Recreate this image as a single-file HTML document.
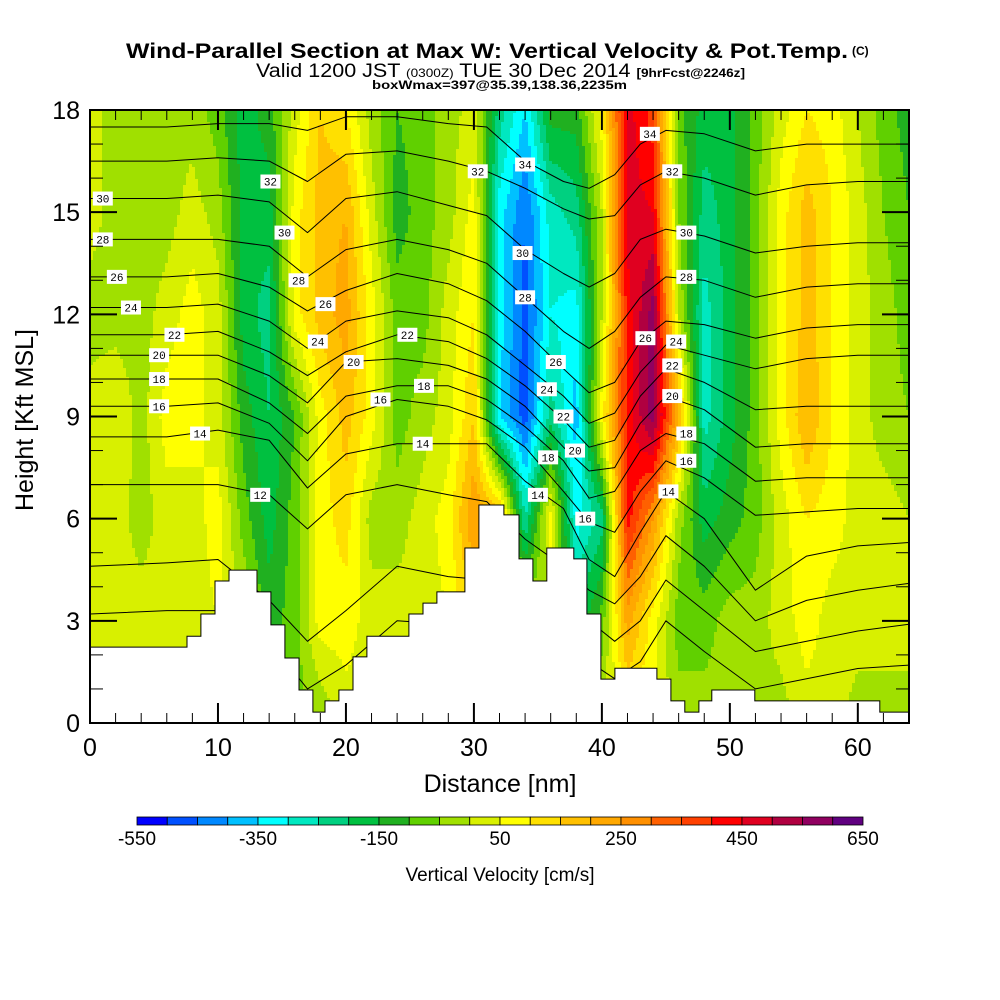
<!DOCTYPE html>
<html><head><meta charset="utf-8">
<style>
html,body{margin:0;padding:0;background:#fff;}
svg{display:block;font-family:"Liberation Sans",Arial,sans-serif;}
</style></head>
<body>
<svg id="chart" width="1000" height="1000" viewBox="0 0 1000 1000">
  <rect x="0" y="0" width="1000" height="1000" fill="#fff"/>
  <g id="title">
    <text x="126" y="58" font-size="21" font-weight="bold" textLength="722" lengthAdjust="spacingAndGlyphs">Wind-Parallel Section at Max W: Vertical Velocity &amp; Pot.Temp.</text>
    <text x="852" y="55" font-size="12" font-weight="bold">(C)</text>
    <text x="256" y="77" font-size="19" textLength="489" lengthAdjust="spacingAndGlyphs">Valid 1200 JST <tspan font-size="12">(0300Z)</tspan> TUE 30 Dec 2014 <tspan font-size="12" font-weight="bold">[9hrFcst@2246z]</tspan></text>
    <text x="372" y="89" font-size="12" font-weight="bold" textLength="255" lengthAdjust="spacingAndGlyphs">boxWmax=397@35.39,138.36,2235m</text>
  </g>
  <defs><clipPath id="plotclip"><rect x="90" y="110" width="819" height="613"/></clipPath></defs>
  <g id="field" clip-path="url(#plotclip)"></g>
  <g id="contours" clip-path="url(#plotclip)"></g>
  <g id="terrain" clip-path="url(#plotclip)"></g>
  <g id="clabels" clip-path="url(#plotclip)"></g>
  <g id="axes"></g>
  <text x="0" y="0" font-size="25" text-anchor="middle" transform="translate(33,420) rotate(-90)">Height [Kft MSL]</text>
  <text x="500" y="792" font-size="25" text-anchor="middle">Distance [nm]</text>
  <g id="colorbar"></g>
  <text x="500" y="881" font-size="19" text-anchor="middle">Vertical Velocity [cm/s]</text>
</svg>
<script>
// ---------- data ----------
const colorBands = ["#0000ff","#0050ff","#0088ff","#00c0ff","#00ffff","#00e8c0","#00d080","#00c040","#20b020","#60d000","#a0e000","#d8f000","#ffff00","#ffe000","#ffc000","#ffa800","#ff9000","#ff6000","#ff4000","#ff0000","#e00020","#b00040","#900060","#600080"];
const bandMin = -550;
const bandStep = 50;
const cbarLabels = [-550,-350,-150,50,250,450,650];
const xTicks = [0,10,20,30,40,50,60];
const yTicks = [0,3,6,9,12,15,18];
const gridNm = [0,2,4,6,8,10,12,14,16,18,20,22,24,26,28,30,32,34,36,38,40,42,44,46,48,50,52,54,56,58,60,62,64];
const gridKft = [0,3,6,9,12,15,18];
const w0  = [25,25,25,25,25,25,0,-100,-75,-50,25,25,25,25,25,25,25,0,0,0,0,75,50,-25,-25,-25,-25,-25,25,25,-25,-25,0];
const w3  = [25,25,25,25,25,50,0,-125,-75,75,75,25,25,25,50,150,100,0,0,-200,-75,225,75,-75,-75,-25,-25,25,75,25,25,25,0];
const w6  = [25,25,-25,25,25,75,-75,-175,-75,75,125,-25,-25,25,75,250,200,-250,75,-325,-225,425,250,-25,-175,-125,-75,25,100,75,25,25,0];
const w9  = [25,50,-25,75,75,25,-125,-200,-100,75,175,75,-75,-25,25,150,-350,-475,-225,-375,75,425,575,200,-275,-175,-75,75,200,100,25,-25,-50];
const w12 = [-25,-25,-25,25,75,25,-175,-225,75,175,225,75,-75,-75,25,100,-325,-475,-300,-325,0,425,575,0,-275,-175,-75,75,175,100,25,-25,-75];
const w15 = [25,-25,-25,-25,25,-25,-175,-175,75,175,200,25,-125,-75,-25,75,-325,-450,-275,-225,0,475,450,-50,-225,-175,-75,75,175,100,25,-50,-100];
const w18 = [25,-25,-25,-25,-25,-75,-175,-125,25,150,100,-25,-100,-75,-25,25,-225,-350,-125,-125,75,475,375,-75,-175,-175,-75,25,100,75,0,-75,-125];
const terrX = [0,7.58,8.67,9.77,10.86,13.05,14.14,15.23,16.33,17.42,18.36,19.45,20.55,21.64,24.92,26.02,27.11,29.3,30.39,32.34,33.52,34.61,35.7,37.81,38.83,39.92,41.02,44.3,45.39,46.48,47.58,48.59,51.95,61.72];
const terrH = [2.23,2.55,3.2,4.17,4.49,3.85,2.88,1.91,0.97,0.32,0.65,0.97,1.94,2.55,3.2,3.52,3.85,5.14,6.4,6.11,4.82,4.17,5.14,4.82,3.2,1.29,1.61,1.29,0.65,0.32,0.65,0.97,0.65,0.32];
const contNm = [0,6,10,14,17,20,24,28,31,34,37,39,41,43,45,48,52,56,60,64];
const th34 = [17.5,17.5,17.6,17.6,17.4,17.8,17.8,17.6,17.5,16.5,15.9,15.7,16.1,17.0,17.4,17.3,16.8,17.0,17.0,17.0];
const th32 = [16.5,16.5,16.6,16.5,15.9,16.7,16.8,16.5,16.2,15.7,15.1,14.8,14.9,15.8,16.2,16.0,15.5,15.8,15.9,15.9];
const th30 = [15.4,15.4,15.5,15.3,14.4,15.4,15.6,15.2,14.9,13.9,13.2,12.8,13.2,14.2,14.5,14.3,13.8,14.0,14.1,14.1];
const th28 = [14.2,14.2,14.2,14.0,13.1,13.9,14.2,13.9,13.5,12.5,11.5,11.0,11.5,12.5,13.1,13.0,12.5,12.8,12.9,12.9];
const th26 = [13.1,13.1,13.2,12.8,12.1,12.7,13.2,12.9,12.4,11.5,10.4,9.7,10.0,11.2,11.8,11.7,11.3,11.6,11.7,11.7];
const th24 = [12.2,12.2,12.3,11.8,11.0,11.8,12.1,11.9,11.4,10.5,9.6,8.8,9.1,10.3,11.1,10.8,10.4,10.7,10.8,10.8];
const th22 = [11.4,11.4,11.5,10.9,10.2,10.9,11.4,11.2,10.7,9.9,8.9,8.1,8.3,9.6,10.4,10.0,9.2,9.3,9.3,9.3];
const th20 = [10.8,10.8,10.8,10.2,9.4,10.6,10.7,10.5,10.1,9.3,8.1,7.4,7.5,8.8,9.6,9.2,8.1,8.2,8.2,8.2];
const th18 = [10.1,10.1,10.1,9.4,8.5,9.6,9.9,9.9,9.5,8.7,7.7,6.6,6.8,8.0,8.5,8.2,7.1,7.2,7.2,7.2];
const th16 = [9.3,9.3,9.4,8.8,7.7,9.0,9.5,9.3,8.9,8.1,6.8,5.9,5.6,6.8,7.7,7.2,6.1,6.2,6.3,6.3];
const th14 = [8.4,8.4,8.6,8.3,6.9,7.9,8.2,8.2,8.2,7.1,6.3,4.8,4.3,5.6,6.8,6.0,3.9,4.9,5.2,5.3];
const th12 = [7.0,7.0,7.0,6.7,5.7,6.7,7.0,6.7,6.5,5.4,4.6,3.9,3.5,4.3,5.5,4.6,3.0,3.6,3.9,4.1];
const th11 = [4.6,4.7,4.8,3.6,2.4,3.3,4.6,4.3,4.2,3.9,3.6,3.0,2.4,3.0,4.2,3.3,2.1,2.4,2.7,2.9];
const th10 = [3.2,3.3,3.3,2.4,1.0,1.7,3.0,2.9,2.7,2.4,2.1,1.8,1.3,1.8,3.0,2.1,1.0,1.3,1.6,1.7];
const labelVals = [30,28,26,24,22,20,18,16,14,12,32,30,28,26,24,20,22,16,18,14,32,34,30,28,26,24,22,20,18,14,16,34,32,30,28,26,24,22,20,18,16,14];
const labelNm = [1.0,1.0,2.1,3.2,6.6,5.4,5.4,5.4,8.6,13.3,14.1,15.2,16.3,18.4,17.8,20.6,24.8,22.7,26.1,26.0,30.3,34.0,33.8,34.0,36.4,35.7,37.0,37.9,35.8,35.0,38.7,43.75,45.5,46.6,46.6,43.4,45.8,45.5,45.5,46.6,46.6,45.2];
const labelKft = [15.4,14.2,13.1,12.2,11.4,10.8,10.1,9.3,8.5,6.7,15.9,14.4,13.0,12.3,11.2,10.6,11.4,9.5,9.9,8.2,16.2,16.4,13.8,12.5,10.6,9.8,9.0,8.0,7.8,6.7,6.0,17.3,16.2,14.4,13.1,11.3,11.2,10.5,9.6,8.5,7.7,6.8];

// ---------- axes ----------
const X0 = 90, X1 = 909, Y0 = 723, Y1 = 110;
const xMax = 64, yMax = 18;
function sx(nm){ return X0 + nm/xMax*(X1-X0); }
function sy(k){ return Y0 - k/yMax*(Y0-Y1); }
const NS = "http://www.w3.org/2000/svg";
function mk(tag, attrs, parent){ const e=document.createElementNS(NS,tag); for(const k in attrs) e.setAttribute(k,attrs[k]); parent.appendChild(e); return e; }

const wRows = [w0,w3,w6,w9,w12,w15,w18];
function valueAt(nm,k){
  let i = Math.min(gridNm.length-2, Math.max(0, Math.floor(nm/2)));
  let j = Math.min(gridKft.length-2, Math.max(0, Math.floor(k/3)));
  const tx = (nm-gridNm[i])/(gridNm[i+1]-gridNm[i]);
  const ty = (k-gridKft[j])/(gridKft[j+1]-gridKft[j]);
  const a=wRows[j][i], b=wRows[j][i+1], c=wRows[j+1][i], d=wRows[j+1][i+1];
  return (a*(1-tx)+b*tx)*(1-ty) + (c*(1-tx)+d*tx)*ty;
}
function colorIdx(v){ return Math.max(0, Math.min(colorBands.length-1, Math.floor((v-bandMin)/bandStep))); }

// field cells
const field = document.getElementById('field');
const cw = 3, ch = 3;
for(let py=Y1; py<Y0; py+=ch){
  const k = (Y0-(py+ch/2))/(Y0-Y1)*yMax;
  let runStart = X0, runIdx = -1;
  for(let px=X0; px<=X1; px+=cw){
    let idx = -2;
    if(px<X1){ const nm=(px+cw/2-X0)/(X1-X0)*xMax; idx = colorIdx(valueAt(nm,k)); }
    if(idx!==runIdx){
      if(runIdx>=0){
        const r = mk('rect',{x:runStart,y:py,width:Math.min(px,X1)-runStart,height:ch,fill:colorBands[runIdx]},field);
        
        
      }
      runStart = px; runIdx = idx;
    }
  }
}

// contours
const contours = document.getElementById('contours');
const thLines = [th34,th32,th30,th28,th26,th24,th22,th20,th18,th16,th14,th12,th11,th10];
const thNames = [34,32,30,28,26,24,22,20,18,16,14,12,11,10];
thLines.forEach((arr,ci)=>{
  let d = '';
  arr.forEach((v,i)=>{ d += (i?'L':'M') + sx(contNm[i]).toFixed(1)+','+sy(v).toFixed(1); });
  const p = mk('path',{d:d,fill:'none',stroke:'#000','stroke-width':1,'stroke-linejoin':'round'},contours);
  
  
});

// terrain
const terr = document.getElementById('terrain');
let td = 'M'+sx(0)+','+(Y0+2);
terrX.forEach((x,i)=>{
  const xe = i<terrX.length-1 ? terrX[i+1] : xMax;
  td += 'L'+sx(x).toFixed(1)+','+sy(terrH[i]).toFixed(1)+'L'+sx(xe).toFixed(1)+','+sy(terrH[i]).toFixed(1);
});
td += 'L'+sx(xMax)+','+(Y0+2)+'Z';
const tp = mk('path',{d:td,fill:'#fff',stroke:'#000','stroke-width':1},terr);



// contour labels
const cl = document.getElementById('clabels');
labelVals.forEach((v,i)=>{
  const cx = sx(labelNm[i]), cy = sy(labelKft[i]);
  const g = mk('g',{},cl);
  
  
  mk('rect',{x:cx-10,y:cy-7,width:20,height:14,fill:'#fff'},g);
  const t = mk('text',{x:cx,y:cy+4,'font-size':11,'text-anchor':'middle','font-family':'Liberation Mono, monospace'},g);
  t.textContent = v;
});

// axes
const ax = document.getElementById('axes');
const frame = mk('rect',{x:X0,y:Y1,width:X1-X0,height:Y0-Y1,fill:'none',stroke:'#000','stroke-width':2},ax);


for(let n=0;n<=64;n+=2){
  const major = n%10===0;
  const L = major?20:10, x=sx(n);
  mk('line',{x1:x,y1:Y0,x2:x,y2:Y0-L,stroke:'#000','stroke-width':major?2:1},ax);
  mk('line',{x1:x,y1:Y1,x2:x,y2:Y1+L,stroke:'#000','stroke-width':major?2:1},ax);
}
for(let k=0;k<=18;k+=1){
  const major = k%3===0;
  const L = major?27:13, y=sy(k);
  mk('line',{x1:X0,y1:y,x2:X0+L,y2:y,stroke:'#000','stroke-width':major?2:1},ax);
  mk('line',{x1:X1,y1:y,x2:X1-L,y2:y,stroke:'#000','stroke-width':major?2:1},ax);
}
xTicks.forEach(v=>{
  const t = mk('text',{x:sx(v),y:756,'font-size':25,'text-anchor':'middle'},ax);
  
  
  t.textContent = v;
});
yTicks.forEach(v=>{
  const t = mk('text',{x:80,y:sy(v)+9,'font-size':25,'text-anchor':'end'},ax);
  
  
  t.textContent = v;
});

// colorbar
const cb = document.getElementById('colorbar');
const CB0 = 137, CB1 = 863, CBY = 817, CBH = 8;
const cbMax = bandMin + bandStep*colorBands.length;
function cbx(v){ return CB0 + (v-bandMin)/(cbMax-bandMin)*(CB1-CB0); }
colorBands.forEach((c,i)=>{
  const r = mk('rect',{x:cbx(bandMin+i*bandStep),y:CBY,width:cbx(bandMin+(i+1)*bandStep)-cbx(bandMin+i*bandStep),height:CBH,fill:c,stroke:'#000','stroke-width':0.8},cb);
  
  
});
cbarLabels.forEach(v=>{
  const t = mk('text',{x:cbx(v),y:845,'font-size':19,'text-anchor':'middle'},cb);
  
  
  t.textContent = v;
});
</script>
</body></html>
